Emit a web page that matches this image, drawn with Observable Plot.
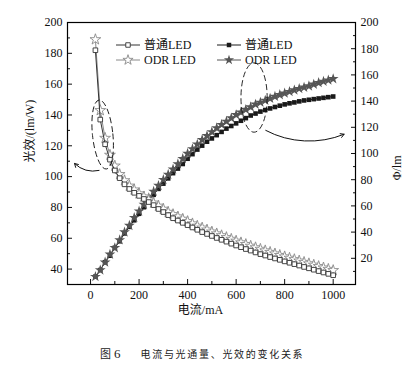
<!DOCTYPE html>
<html><head><meta charset="utf-8">
<script src="https://cdn.jsdelivr.net/npm/d3@7"></script>
<script src="https://cdn.jsdelivr.net/npm/@observablehq/plot@0.6"></script>
<style>
body{margin:0;background:#fff;}
#wrap{position:relative;width:412px;height:373px;overflow:hidden;background:#fff;}
#cap{position:absolute;left:100px;top:344px;font-family:"Liberation Serif","Times New Roman","DejaVu Serif","Noto Sans CJK SC",serif;color:#222;white-space:nowrap;}
#cap .fig{font-size:11px;}
#cap .num{font-size:13px;margin-left:3px;}
#cap .txt{font-size:10px;letter-spacing:1.7px;margin-left:20px;}
</style></head><body>
<div id="wrap"><div id="chart"></div><div id="cap"><span class="fig">图</span><span class="num">6</span><span class="txt">电流与光通量、光效的变化关系</span></div></div>
<script>
// current (mA)
const current = [20,40,60,80,100,120,140,160,180,200,220,240,260,280,300,320,340,360,380,400,420,440,460,480,500,520,540,560,580,600,620,640,660,680,700,720,740,760,780,800,820,840,860,880,900,920,940,960,980,1000];
// luminous efficacy (lm/W), left axis
const effNormal = [182,137,121,111,104,99,95,92,89.5,87.5,85.5,83.5,81.5,79,77,75,73,71.5,70,68.5,67,65.5,64,62.8,61.5,60.2,59,57.8,56.5,55.3,54.2,53,52,50.8,49.7,48.8,47.8,46.9,46,45,44.1,43.2,42.3,41.4,40.5,39.6,38.7,37.8,36.9,36];
const effODR = [189,143,125,114,107,101.5,97.5,94,91.5,89,87,85,83,81,79,77,75.5,74,72.5,71,69.5,68,66.8,65.5,64.2,63,61.8,60.6,59.5,58.3,57.2,56.1,55,54,53,52,51,50,49,48.1,47.2,46.3,45.4,44.5,43.6,42.7,41.8,40.9,40,39.2];
// luminous flux (lm), right axis
const fluxNormal = [6,11,17,22,28,33,39,44,49,54,59,64,68.5,73,77,81,85,88.5,92,96,99.5,103,106,109,111.5,114,116.5,119,121,123,125,127,129,130.5,132,133.2,134.4,135.5,136.5,137.5,138.3,139,139.8,140.5,141,141.5,142,142.5,143,143.5];
const fluxODR = [6,11,17,23,28,34,40,45,51,56,61,66,71,75.5,80,84,88,92,96,100,103.5,107,110.5,113.5,116.5,119.5,122,124.5,127,129.5,131.5,133.5,135.5,137.5,139,140.5,142,143.5,144.8,146,147.2,148.4,149.5,150.5,151.5,152.8,154,155,156,157];

const xTicks = [0,200,400,600,800,1000];
const xMinor = [100,300,500,700,900];
const leftTicks = [40,60,80,100,120,140,160,180,200];
const leftMinor = [50,70,90,110,130,150,170,190];
const rightTicks = [20,40,60,80,100,120,140,160,180,200];
const rightMinor = [10,30,50,70,90,110,130,150,170,190];
const legendLabels = ["普通LED","ODR LED","普通LED","ODR LED"];

const leftDomain = [30,200], rightDomain = [0,200];
const toLeft = v => leftDomain[0] + (v - rightDomain[0]) * (leftDomain[1]-leftDomain[0]) / (rightDomain[1]-rightDomain[0]);
const fromLeft = v => rightDomain[0] + (v - leftDomain[0]) * (rightDomain[1]-rightDomain[0]) / (leftDomain[1]-leftDomain[0]);

const rows = current.map((c,i)=>({c, e1: effNormal[i], e2: effODR[i], f1: toLeft(fluxNormal[i]), f2: toLeft(fluxODR[i])}));

// annotation arrows (data units)
const arrowLeft = [{x1: 35, y1: 104, x2: -66, y2: 108.5}];
const arrowRight = [{x1: 722, y1: 130, x2: 1045, y2: 127.5}];

const serif = '"Liberation Serif","Times New Roman","DejaVu Serif",serif';
const cjk = '"Liberation Serif","Times New Roman","Noto Sans CJK SC",serif';

const cNormalOpen = "#333", cODROpen = "#8a8a8a", cNormalFill = "#1a1a1a", cODRFill = "#555";

const chart = Plot.plot({
  width: 412, height: 330,
  marginTop: 22, marginBottom: 46, marginLeft: 67, marginRight: 57,
  style: {fontFamily: serif, fontSize: "12px", color: "#111", background: "#fff", overflow: "visible"},
  x: {domain: [-95, 1092]},
  y: {domain: leftDomain},
  marks: [
    Plot.axisX({ticks: xTicks, tickSize: -5, tickPadding: 11, tickFormat: d => String(d), label: null, fontSize: 12, fontFamily: serif}),
    Plot.axisX({ticks: xMinor, tickSize: -3, tickFormat: () => "", label: null}),
    Plot.axisY({ticks: leftTicks, tickSize: -5, tickPadding: 10, tickFormat: d => String(d), label: null, fontSize: 12, fontFamily: serif}),
    Plot.axisY({ticks: leftMinor, tickSize: -3, tickFormat: () => "", label: null}),
    Plot.axisY({anchor: "right", ticks: rightTicks.map(toLeft), tickSize: -5, tickPadding: 10, tickFormat: d => String(Math.round(fromLeft(d))), label: null, fontSize: 12, fontFamily: serif}),
    Plot.axisY({anchor: "right", ticks: rightMinor.map(toLeft), tickSize: -3, tickFormat: () => "", label: null}),
    Plot.frame({stroke: "#000", strokeWidth: 1.2}),
    Plot.text(["光效/(lm/W)"], {text: d => d, frameAnchor: "left", dx: -37, dy: 9, rotate: -90, fontFamily: cjk, fontSize: 12}),
    Plot.text(["Φ/lm"], {text: d => d, frameAnchor: "right", dx: 42, dy: 2, rotate: -90, fontFamily: serif, fontSize: 12}),
    Plot.text(["电流/mA"], {text: d => d, frameAnchor: "bottom", dx: -11, dy: 29, fontFamily: cjk, fontSize: 12}),
    // flux curves
    Plot.line(rows, {x: "c", y: "f1", stroke: cNormalFill, strokeWidth: 1}),
    Plot.dot(rows, {x: "c", y: "f1", symbol: "square", fill: cNormalFill, r: 2.6}),
    Plot.line(rows, {x: "c", y: "f2", stroke: cODRFill, strokeWidth: 1}),
    Plot.dot(rows, {x: "c", y: "f2", symbol: "star", fill: cODRFill, r: 3.4}),
    // efficacy curves
    Plot.line(rows, {x: "c", y: "e2", stroke: cODROpen, strokeWidth: 1}),
    Plot.dot(rows, {x: "c", y: "e2", symbol: "star", fill: "white", stroke: cODROpen, strokeWidth: 0.9, r: 3.4}),
    Plot.line(rows, {x: "c", y: "e1", stroke: cNormalOpen, strokeWidth: 1}),
    Plot.dot(rows, {x: "c", y: "e1", symbol: "square", fill: "white", stroke: cNormalOpen, strokeWidth: 0.9, r: 2.6}),
    Plot.arrow(arrowLeft, {x1: "x1", y1: "y1", x2: "x2", y2: "y2", bend: 28, stroke: "#111", strokeWidth: 1, headLength: 6}),
    Plot.arrow(arrowRight, {x1: "x1", y1: "y1", x2: "x2", y2: "y2", bend: -25, stroke: "#111", strokeWidth: 1, headLength: 6})
  ]
});
document.getElementById("chart").appendChild(chart);

// annotation ellipses and legend, placed through the chart's scales
const sx = chart.scale("x"), sy = chart.scale("y");
const svg = d3.select(chart);
const ellipses = [
  {cx: 52, cy: 127, rx: 42, ry: 22.5, rot: -6},
  {cx: 676, cy: 151, rx: 54, ry: 22.5, rot: 0}
];
for (const e of ellipses) {
  const px = sx.apply(e.cx), py = sy.apply(e.cy);
  const rx = sx.apply(e.cx + e.rx) - px, ry = sy.apply(e.cy - e.ry) - py;
  svg.append("ellipse").attr("cx", px).attr("cy", py).attr("rx", Math.abs(rx)).attr("ry", Math.abs(ry))
    .attr("transform", `rotate(${e.rot},${px},${py})`)
    .attr("fill", "none").attr("stroke", "#111").attr("stroke-width", 0.9).attr("stroke-dasharray", "6,3");
}
// legend
const lg = svg.append("g").attr("text-anchor", "start");
const legendItems = [
  {x: 116, y: 45, sym: d3.symbolSquare, size: 20, fill: "white", stroke: cNormalOpen, line: cNormalOpen},
  {x: 116, y: 60, sym: d3.symbolStar, size: 32, fill: "white", stroke: cODROpen, line: cODROpen},
  {x: 217, y: 45, sym: d3.symbolSquare, size: 20, fill: cNormalFill, stroke: "none", line: cNormalFill},
  {x: 217, y: 60, sym: d3.symbolStar, size: 32, fill: cODRFill, stroke: "none", line: cODRFill}
];
legendItems.forEach((it, i) => {
  lg.append("line").attr("x1", it.x).attr("x2", it.x + 24).attr("y1", it.y).attr("y2", it.y).attr("stroke", it.line).attr("stroke-width", 1);
  lg.append("path").attr("d", d3.symbol(it.sym, it.size)()).attr("transform", `translate(${it.x + 12},${it.y})`)
    .attr("fill", it.fill).attr("stroke", it.stroke).attr("stroke-width", 0.9);
  lg.append("text").attr("x", it.x + 28).attr("y", it.y).attr("dy", "0.35em").attr("text-anchor", "start")
    .style("font-family", cjk).style("font-size", "12px").attr("fill", "#111").text(legendLabels[i]);
});
</script>
</body></html>
